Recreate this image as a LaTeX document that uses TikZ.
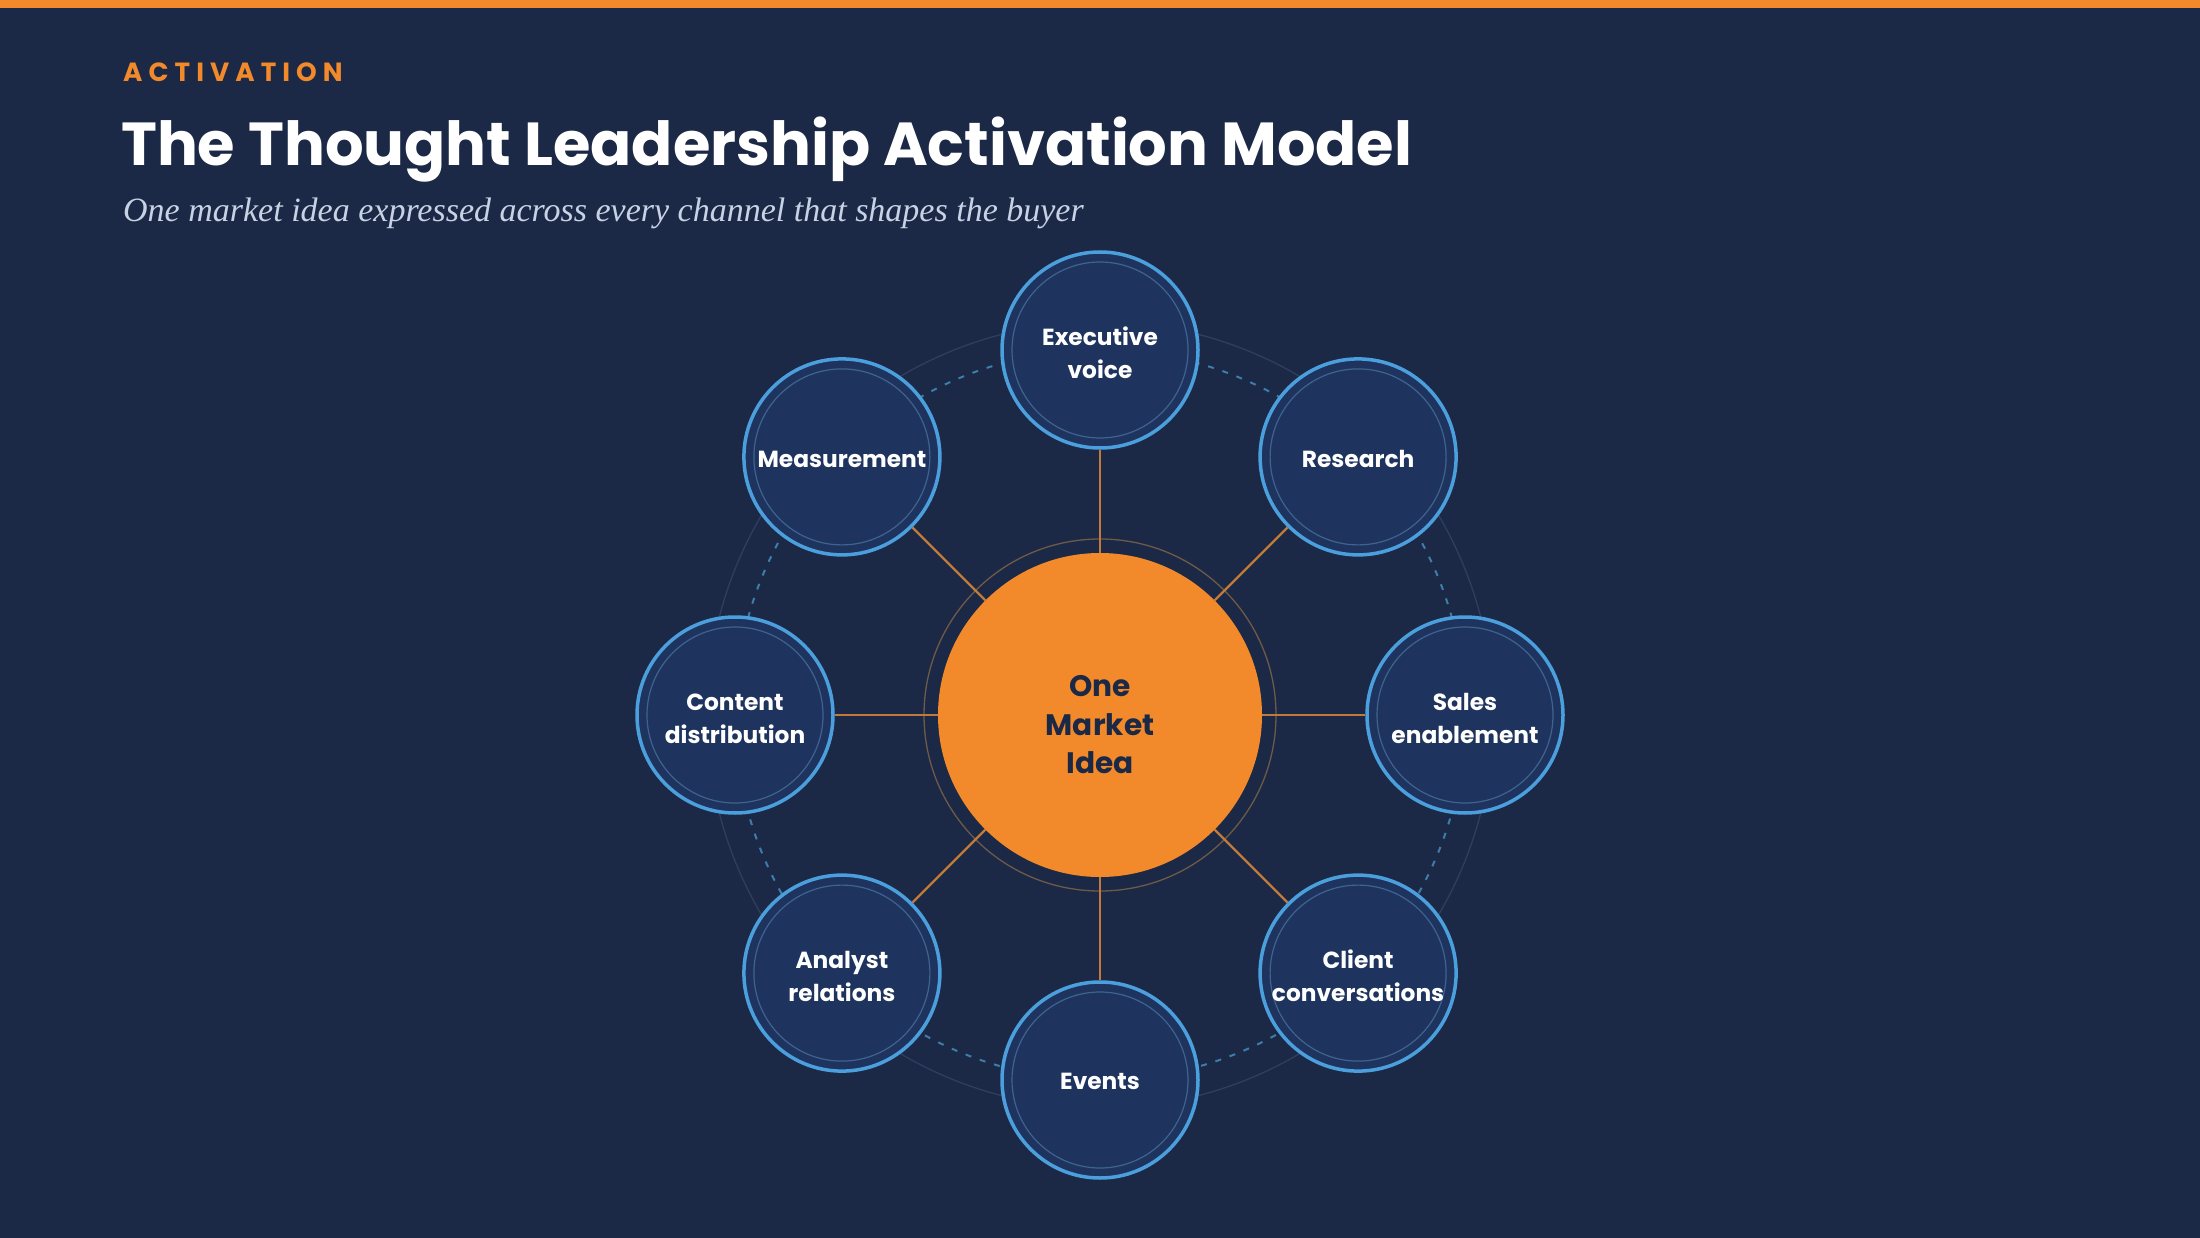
\documentclass[tikz,border=0pt]{standalone}
\usepackage{fontspec}
\newfontfamily\pop{Poppins}
\newfontfamily\popact{Poppins}[LetterSpace=23]
\newfontfamily\subserif{Liberation Serif}
\definecolor{bgnavy}{HTML}{1B2946}
\definecolor{accent}{HTML}{F28A2B}
\definecolor{satfill}{HTML}{1E345E}
\definecolor{satblue}{HTML}{4A9FDC}
\definecolor{innerring}{HTML}{3F6390}
\definecolor{spoke}{HTML}{C27A3A}
\definecolor{corering}{HTML}{6E5A48}
\definecolor{outerring}{HTML}{2E3F5E}
\definecolor{dashring}{HTML}{3E7DAA}
\definecolor{subtext}{HTML}{C8D2E4}
\newcommand{\lowered}[2]{\raisebox{-#1}[\height][\depth]{\begin{tabular}{@{}c@{}}#2\end{tabular}}}
\pgfdeclarelayer{bg}
\pgfdeclarelayer{mid}
\pgfsetlayers{bg,mid,main}
\begin{document}
\begin{tikzpicture}[x=1pt,y=-1pt,
  sat/.style={circle, minimum size=196, inner sep=0, fill=satfill, draw=satblue, line width=3.5,
    text=white, font=\pop\bfseries\fontsize{23.3}{33}\selectfont,
    path picture={\draw[innerring, line width=1.2pt] (path picture bounding box.center) circle[radius=88pt];}},
  core/.style={circle, minimum size=324, inner sep=0, fill=accent, text=bgnavy,
    font=\pop\bfseries\fontsize{29.6}{38.6}\selectfont},
  spokeline/.style={spoke, line width=2.2},
]
\useasboundingbox (0,0) rectangle (2200,1238);
\begin{pgfonlayer}{bg}
  \fill[bgnavy] (0,0) rectangle (2200,1238);
  \fill[accent] (0,0) rectangle (2200,8);
  \coordinate (ctr) at (1100,715);
  \draw[outerring, line width=1.3] (ctr) circle[radius=393];
  \draw[dashring, line width=2, dash pattern=on 6pt off 9pt] (ctr) circle[radius=365];
  \draw[corering, line width=1.3] (ctr) circle[radius=176];
\end{pgfonlayer}

\node[anchor=base west, text=accent, inner sep=0, font=\popact\bfseries\fontsize{26.3}{30}\selectfont] (kicker) at (123,82) {ACTIVATION};
\node[anchor=base west, text=white, inner sep=0, font=\pop\bfseries\fontsize{60.7}{70}\selectfont] (title) at (121,166) {The Thought Leadership Activation Model};
\node[anchor=base west, text=subtext, inner sep=0, font=\subserif\itshape\fontsize{34}{38}\selectfont] (subtitle) at (123,221.5) {One market idea expressed across every channel that shapes the buyer};

\node[core] (core) at (ctr) {\lowered{12.5pt}{One\\Market\\Idea}};
\node[sat] (exec) at (1100,350) {\lowered{5.5pt}{Executive\\voice}};
\node[sat] (research) at (1358.1,456.9) {\lowered{3.5pt}{Research}};
\node[sat] (sales) at (1465,715) {\lowered{5.5pt}{Sales\\enablement}};
\node[sat] (client) at (1358.1,973.1) {\lowered{5.5pt}{Client\\conversations}};
\node[sat] (events) at (1100,1080) {\lowered{3pt}{Events}};
\node[sat] (analyst) at (841.9,973.1) {\lowered{5.5pt}{Analyst\\relations}};
\node[sat] (content) at (735,715) {\lowered{5.5pt}{Content\\distribution}};
\node[sat] (measure) at (841.9,456.9) {\lowered{3.5pt}{Measurement}};

\begin{pgfonlayer}{mid}
  \foreach \s in {exec,research,sales,client,events,analyst,content,measure}
    \draw[spokeline] (core) -- (\s);
\end{pgfonlayer}
\end{tikzpicture}
\end{document}
